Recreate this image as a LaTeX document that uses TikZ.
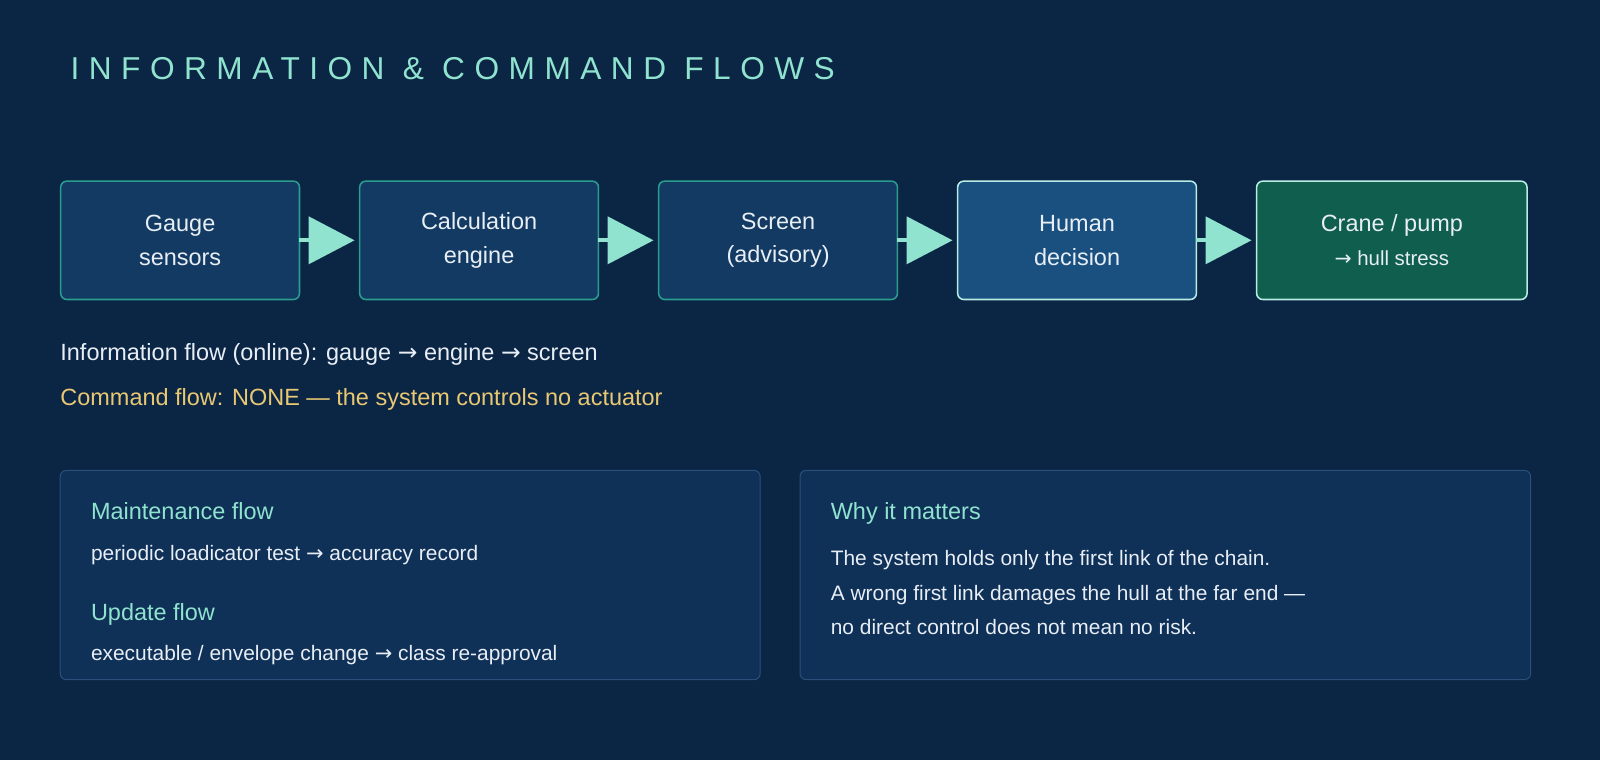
\documentclass[tikz,border=0pt]{standalone}
\usepackage{fontspec}
\setmainfont{Liberation Sans}
\newfontfamily\arrowfont{DejaVu Sans}
\newcommand{\toarrow}{{\arrowfont →}}
\usetikzlibrary{arrows.meta,positioning}
\definecolor{bgnavy}{HTML}{0B2545}
\definecolor{boxfill}{HTML}{133A62}
\definecolor{boxedge}{HTML}{2A9D8F}
\definecolor{humfill}{HTML}{1A5080}
\definecolor{cranefill}{HTML}{0F5E4E}
\definecolor{lightedge}{HTML}{B8EDE4}
\definecolor{mint}{HTML}{8FE3CF}
\definecolor{gold}{HTML}{E8C872}
\definecolor{panelfill}{HTML}{0F3057}
\definecolor{paneledge}{HTML}{2A4F7A}
\definecolor{softwhite}{HTML}{E8EEF5}
\tikzset{
  stagebox/.style={draw=boxedge, fill=boxfill, line width=1.5pt, rounded corners=6pt,
    outer sep=0pt, minimum width=234pt, minimum height=116pt, align=center, text=softwhite,
    font=\fontsize{23}{33}\selectfont},
  flowarrow/.style={draw=mint, line width=4pt, shorten >=5pt,
    -{Triangle[width=46pt,length=45pt]}},
  panel/.style={draw=paneledge, fill=panelfill, line width=1pt, rounded corners=6pt},
  heading/.style={anchor=base west, inner sep=0pt, text=mint, font=\fontsize{23}{26}\selectfont},
  bodyline/.style={anchor=base west, inner sep=0pt, text=softwhite, font=\fontsize{20.5}{24}\selectfont}
}
\begin{document}
\begin{tikzpicture}[x=1pt,y=-1pt]
  \fill[bgnavy] (0,0) rectangle (1568,745);
  \useasboundingbox (0,0) rectangle (1568,745);

  %% title
  \node[anchor=base west, inner sep=0pt, text=mint, font=\fontsize{31}{36}\selectfont\addfontfeatures{LetterSpace=30}]
    (title) at (69,78) {INFORMATION \& COMMAND FLOWS};

  %% chain of stages
  \node[stagebox] (gauge) at (176.5,235.5) {Gauge\\sensors};
  \node[stagebox, right=59pt of gauge] (engine) {Calculation\\engine};
  \node[stagebox, right=59pt of engine] (screen) {Screen\\(advisory)};
  \node[stagebox, right=59pt of screen, fill=humfill, draw=lightedge] (human) {Human\\decision};
  \node[stagebox, right=59pt of human, fill=cranefill, draw=lightedge, minimum width=265pt]
    (crane) {Crane / pump\\{\fontsize{20}{20}\selectfont\toarrow\ hull stress}};

  \draw[flowarrow] (gauge) -- (engine);
  \draw[flowarrow] (engine) -- (screen);
  \draw[flowarrow] (screen) -- (human);
  \draw[flowarrow] (human) -- (crane);

  %% flow notes
  \node[anchor=base west, inner sep=0pt, text=softwhite, font=\fontsize{23}{26}\selectfont] (info) at (59,353)
    {Information flow (online): gauge \toarrow\ engine \toarrow\ screen};
  \node[anchor=base west, inner sep=0pt, text=gold, font=\fontsize{23}{26}\selectfont] (cmd) at (59,397)
    {Command flow: NONE — the system controls no actuator};

  %% lower panels
  \draw[panel] (59,461) rectangle (745,666);
  \draw[panel] (784,461) rectangle (1500,666);

  \node[heading] (maint) at (89,509) {Maintenance flow};
  \node[bodyline] (maintx) at (89,549) {periodic loadicator test \toarrow\ accuracy record};
  \node[heading] (upd) at (89,608) {Update flow};
  \node[bodyline] (updx) at (89,647) {executable / envelope change \toarrow\ class re-approval};

  \node[heading] (why) at (814,509) {Why it matters};
  \node[bodyline] (why1) at (814,554) {The system holds only the first link of the chain.};
  \node[bodyline] (why2) at (814,588) {A wrong first link damages the hull at the far end —};
  \node[bodyline] (why3) at (814,622) {no direct control does not mean no risk.};
\end{tikzpicture}
\end{document}
